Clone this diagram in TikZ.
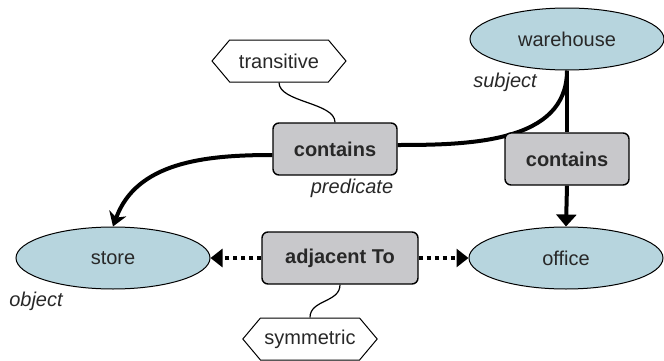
\documentclass[tikz,border=0pt]{standalone}
\usepackage{fontspec}
\setmainfont{Liberation Sans}
\usetikzlibrary{shapes.geometric,shapes.symbols,arrows.meta,backgrounds}

\definecolor{conceptblue}{RGB}{183,213,222}
\definecolor{relgray}{RGB}{200,200,203}
\definecolor{inkgray}{RGB}{40,40,40}

\tikzstyle{concept}=[ellipse,draw,line width=0.5pt,fill=conceptblue,text=inkgray,minimum width=97pt,minimum height=31pt]
\tikzstyle{relation}=[rectangle,rounded corners=3pt,draw,line width=0.7pt,fill=relgray,text=inkgray,font=\bfseries,minimum width=62pt,minimum height=26pt]
\tikzstyle{prop}=[signal,signal to=west and east,signal pointer angle=100,draw,line width=0.5pt,fill=white,text=inkgray,minimum width=67pt,minimum height=21pt,inner xsep=2pt]
\tikzstyle{role}=[font=\itshape,text=inkgray]
\tikzstyle{link}=[line width=2pt]
\tikzstyle{dots}=[line width=2pt,dash pattern=on 2pt off 2pt,-{Triangle[length=6pt,width=9pt]}]
\tikzstyle{attach}=[line width=0.6pt]

\begin{document}
\begin{tikzpicture}[x=0.5pt,y=0.5pt]
\useasboundingbox (0,0) rectangle (664,360);
% concepts
\node[concept] (warehouse) at (567,321) {warehouse};
\node[concept] (store) at (113,102) {store};
\node[concept] (office) at (566,102) {office};
% relations
\node[relation] (containsA) at (335,211) {contains};
\node[relation] (containsB) at (567,201) {contains};
\node[relation,minimum width=78pt] (adjacent) at (340,102) {adjacent To};
% properties
\node[prop] (transitive) at (279,299) {transitive};
\node[prop] (symmetric) at (310,21) {symmetric};
% roles
\node[role] (subject) at (505,278) {subject};
\node[role] (predicate) at (352,172) {predicate};
\node[role] (object) at (36,59) {object};

\begin{pgfonlayer}{background}
\draw [link] (warehouse.south) to[out=-90,in=0] ([yshift=2pt]containsA.east);
\draw [link,-{Stealth[length=7pt,width=9pt]}] ([yshift=-3pt]containsA.west) to[out=180,in=70] (store.north);
\draw [link] (warehouse.south) -- (containsB.north);
\draw [link,-{Triangle[length=6pt,width=10pt]}] (containsB.south) -- (office.north);
\draw [dots] (adjacent.west) -- (store.east);
\draw [dots] (adjacent.east) -- (office.west);
\draw [attach] (transitive.south) .. controls +(0,-20) and +(0,20) .. (containsA.north);
\draw [attach] (adjacent.south) .. controls +(0,-18) and +(0,18) .. (symmetric.north);
\end{pgfonlayer}
\end{tikzpicture}
\end{document}
